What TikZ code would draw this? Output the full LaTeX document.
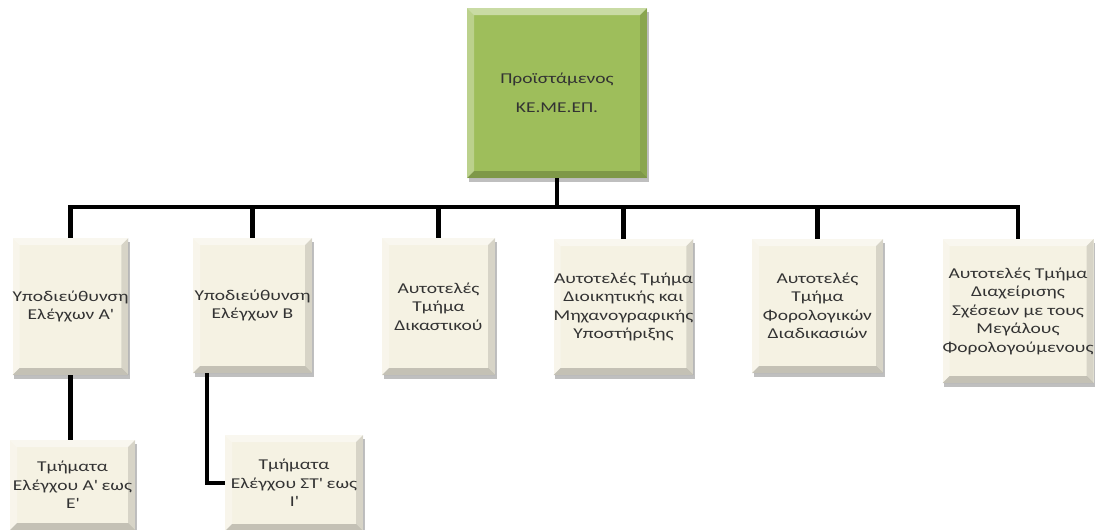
\documentclass[tikz,border=0pt]{standalone}
\usepackage{fontspec}
\setmainfont[FakeStretch=1.3]{Carlito}
\usetikzlibrary{shadows}
\definecolor{greenbox}{HTML}{9EBE5B}
\definecolor{creambox}{HTML}{F5F2E3}
\definecolor{txt}{HTML}{333333}
\newcommand{\ap}{\textquotesingle}
\tikzset{
  bevel/.style={path picture={
    \fill[white,opacity=0.45] (path picture bounding box.north west) -- (path picture bounding box.north east) -- ([xshift=-7pt,yshift=-7pt]path picture bounding box.north east) -- ([xshift=7pt,yshift=-7pt]path picture bounding box.north west) -- cycle;
    \fill[white,opacity=0.3] (path picture bounding box.north west) -- (path picture bounding box.south west) -- ([xshift=7pt,yshift=7pt]path picture bounding box.south west) -- ([xshift=7pt,yshift=-7pt]path picture bounding box.north west) -- cycle;
    \fill[black,opacity=0.12] (path picture bounding box.north east) -- (path picture bounding box.south east) -- ([xshift=-7pt,yshift=7pt]path picture bounding box.south east) -- ([xshift=-7pt,yshift=-7pt]path picture bounding box.north east) -- cycle;
    \fill[black,opacity=0.2] (path picture bounding box.south west) -- (path picture bounding box.south east) -- ([xshift=-7pt,yshift=7pt]path picture bounding box.south east) -- ([xshift=7pt,yshift=7pt]path picture bounding box.south west) -- cycle;
  }},
  orgbox/.style={draw=none, inner sep=0pt, align=center, text=txt,
    font=\fontsize{15}{18.5}\selectfont, bevel,
    drop shadow={shadow xshift=1.5pt, shadow yshift=-4pt, opacity=0.25, fill=black}},
  cbox/.style={orgbox, fill=creambox},
  gbox/.style={orgbox, fill=greenbox},
  conn/.style={line width=4.5pt, black, line join=miter}
}
\begin{document}
\begin{tikzpicture}[x=1pt,y=-1pt]
\useasboundingbox (0,0) rectangle (1096,530);
\node[gbox, minimum width=180pt, minimum height=170pt] (top) at (557,93)
  {Προϊστάμενος\\[10pt]ΚΕ.ΜΕ.ΕΠ.};
\node[cbox, minimum width=115pt, minimum height=137pt] (b1) at (70.5,306.5)
  {Υποδιεύθυνση\\Ελέγχων Α\ap};
\node[cbox, minimum width=119pt, minimum height=135pt] (b2) at (252.5,305.5)
  {Υποδιεύθυνση\\Ελέγχων Β};
\node[cbox, minimum width=113pt, minimum height=137pt] (b3) at (438.5,306.5)
  {Αυτοτελές\\Τμήμα\\Δικαστικού};
\node[cbox, minimum width=137pt, minimum height=136pt] (b4) at (623.5,307)
  {Αυτοτελές Τμήμα\\Διοικητικής και\\Μηχανογραφικής\\Υποστήριξης};
\node[cbox, minimum width=131pt, minimum height=134pt] (b5) at (817.5,306)
  {Αυτοτελές\\Τμήμα\\Φορολογικών\\Διαδικασιών};
\node[cbox, minimum width=150pt, minimum height=144pt] (b6) at (1018,311)
  {Αυτοτελές Τμήμα\\Διαχείρισης\\Σχέσεων με τους\\Μεγάλους\\Φορολογούμενους};
\node[cbox, minimum width=125pt, minimum height=90pt] (b7) at (72.5,485)
  {Τμήματα\\Ελέγχου Α\ap{} εως\\Ε\ap};
\node[cbox, minimum width=138pt, minimum height=96pt] (b8) at (294,483)
  {Τμήματα\\Ελέγχου ΣΤ\ap{} εως\\Ι\ap};
\coordinate (bus) at (0,207);
\coordinate (b2out) at (207,373);
\draw[conn] (b1.north) -- (b1.north |- bus) -- (b6.north |- bus) -- (b6.north);
\draw[conn] (top.south) -- (top.south |- bus);
\draw[conn] (b2.north) -- (b2.north |- bus);
\draw[conn] (b3.north) -- (b3.north |- bus);
\draw[conn] (b4.north) -- (b4.north |- bus);
\draw[conn] (b5.north) -- (b5.north |- bus);
\draw[conn] (b1.south) -- (b1.south |- b7.north);
\draw[conn] (b2out) |- (b8.west);
\end{tikzpicture}
\end{document}
